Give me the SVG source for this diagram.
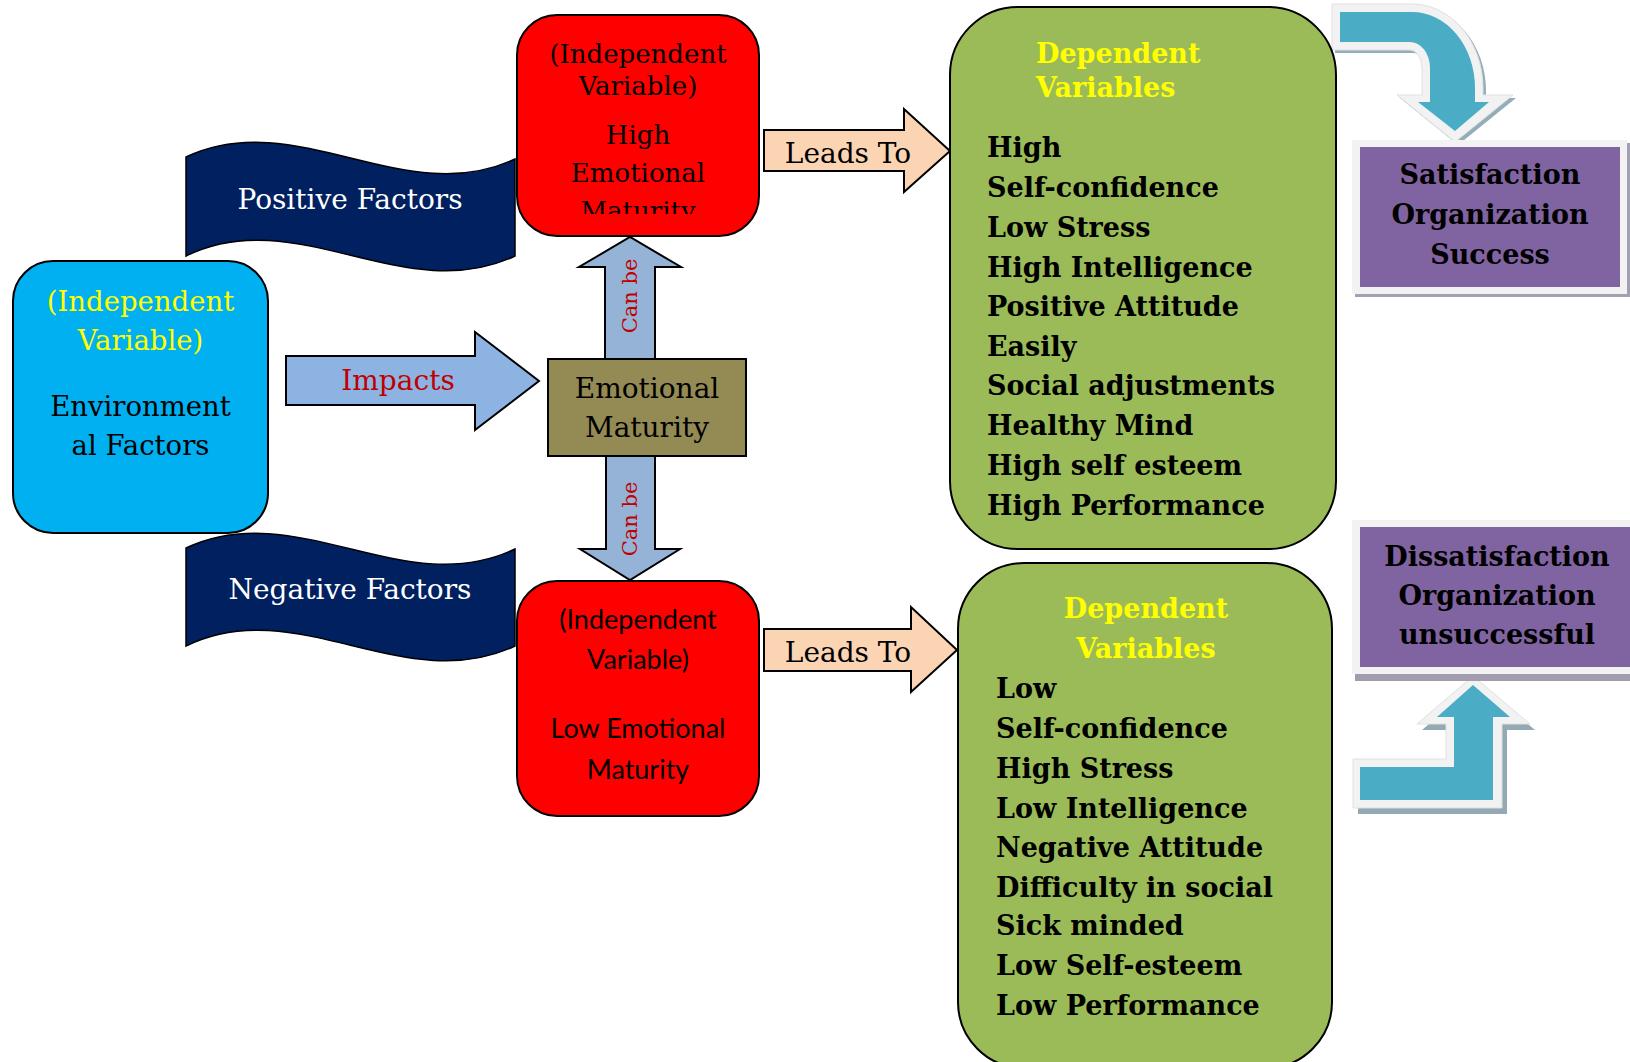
<svg xmlns="http://www.w3.org/2000/svg" width="1630" height="1062" viewBox="0 0 1630 1062">
<style>
.sf{font-family:"DejaVu Serif","Liberation Serif",serif}
.bd{font-family:"DejaVu Serif","Liberation Serif",serif;font-weight:bold}
.ln{stroke:#000;stroke-width:2}
.mid{text-anchor:middle}
</style>
<defs>
<clipPath id="clipHigh"><rect x="517" y="15" width="242" height="199"/></clipPath>
</defs>
<rect width="1630" height="1062" fill="#fff"/>

<g id="positive-factors">
<path d="M186,157 C296,105 405,211 515,159 L515,256 C405,308 296,202 186,256 Z" fill="#002060" stroke="#000" stroke-width="1.5"/>
<text class="sf mid" x="350" y="209" font-size="28" fill="#fff">Positive Factors</text>
</g>
<g id="negative-factors">
<path d="M186,548 C296,496 405,602 515,549 L515,646 C405,698 296,592 186,646 Z" fill="#002060" stroke="#000" stroke-width="1.5"/>
<text class="sf mid" x="350" y="599" font-size="28" fill="#fff">Negative Factors</text>
</g>

<g id="connectors">
<g id="impacts">
<polygon class="ln" points="286,356 475,356 475,332 539,381 475,430 475,405 286,405" fill="#8DB3E2"/>
<text class="sf mid" x="398" y="390" font-size="28" fill="#C00000">Impacts</text>
</g>
<g id="canbe-up">
<polygon class="ln" points="605,359 605,267 579,267 630,237 681,267 655,267 655,359" fill="#95B3D7"/>
<text class="sf mid" transform="translate(637,296) rotate(-90)" font-size="21" fill="#C00000">Can be</text>
</g>
<g id="canbe-down">
<polygon class="ln" points="606,456 606,549 580,549 630,580 680,549 655,549 655,456" fill="#95B3D7"/>
<text class="sf mid" transform="translate(637,519) rotate(-90)" font-size="21" fill="#C00000">Can be</text>
</g>
<g id="leads-to-high">
<polygon class="ln" points="764,130 904,130 904,109 950,151 904,192 904,171 764,171" fill="#FBD4B4"/>
<text class="sf mid" x="848" y="163" font-size="28">Leads To</text>
</g>
<g id="leads-to-low">
<polygon class="ln" points="764,629 911,629 911,607 957,650 911,692 911,671 764,671" fill="#FBD4B4"/>
<text class="sf mid" x="848" y="662" font-size="28">Leads To</text>
</g>
<g id="curved-arrow-satisfaction">
<path transform="translate(3,3)" d="M1332,4 L1412,4 A71,84 0 0 1 1483,88 L1483,95 L1513,95 L1455,142 L1397,95 L1422,95 L1422,68 A12,18 0 0 0 1410,50 L1332,50 Z" fill="#94ADBA"/>
<path d="M1332,4 L1412,4 A71,84 0 0 1 1483,88 L1483,95 L1513,95 L1455,142 L1397,95 L1422,95 L1422,68 A12,18 0 0 0 1410,50 L1332,50 Z" fill="#F2F2F2" stroke="#E0E0E0" stroke-width="1"/>
<path d="M1340,12 L1412,12 A63,76 0 0 1 1475,88 L1475,102 L1489,102 L1455,131 L1418,102 L1430,102 L1430,68 A20,26 0 0 0 1410,42 L1340,42 Z" fill="#4BACC6"/>
</g>
<g id="bent-arrow-dissatisfaction">
<path transform="translate(5,6)" d="M1353,759 L1446,759 L1446,724 L1417,724 L1473,676 L1530,724 L1502,724 L1502,808 L1353,808 Z" fill="#93A9B3"/>
<path d="M1353,759 L1446,759 L1446,724 L1417,724 L1473,676 L1530,724 L1502,724 L1502,808 L1353,808 Z" fill="#F2F2F2" stroke="#E0E0E0" stroke-width="1"/>
<path d="M1360,767 L1454,767 L1454,717 L1437,717 L1473,685 L1510,717 L1493,717 L1493,800 L1360,800 Z" fill="#4BACC6"/>
</g>
</g>

<g id="environmental-factors">
<rect class="ln" x="13" y="261" width="255" height="272" rx="40" fill="#00B0F0"/>
<g class="sf mid" font-size="27.5">
<text x="140.5" y="311" fill="#FFFF00">(Independent</text>
<text x="140.5" y="350" fill="#FFFF00">Variable)</text>
<text x="140.5" y="416">Environment</text>
<text x="140.5" y="455">al Factors</text>
</g>
</g>

<g id="high-emotional-maturity">
<rect class="ln" x="517" y="15" width="242" height="221" rx="40" fill="#FF0000"/>
<g class="sf mid" font-size="26" clip-path="url(#clipHigh)">
<text x="638" y="63">(Independent</text>
<text x="638" y="95">Variable)</text>
<text x="638" y="144">High</text>
<text x="638" y="182">Emotional</text>
<text x="638" y="220">Maturity</text>
</g>
</g>

<g id="emotional-maturity">
<rect class="ln" x="548" y="359" width="198" height="97" fill="#948A54"/>
<text class="sf mid" x="647" y="398" font-size="28">Emotional</text>
<text class="sf mid" x="647" y="437" font-size="28">Maturity</text>
</g>

<g id="low-emotional-maturity">
<rect class="ln" x="517" y="581" width="242" height="235" rx="40" fill="#FF0000"/>
<g font-family="Lato, 'Open Sans', sans-serif" font-size="27" text-anchor="middle">
<text x="638" y="629">(Independent</text>
<text x="638" y="669">Variable)</text>
<text x="638" y="738">Low Emotional</text>
<text x="638" y="779">Maturity</text>
</g>
</g>

<g id="dependent-high">
<rect class="ln" x="950" y="7" width="386" height="542" rx="68" fill="#9BBB59"/>
<g class="bd" font-size="27">
<text x="1036" y="62.5" fill="#FFFF00">Dependent</text>
<text x="1036" y="96.5" fill="#FFFF00">Variables</text>
<text x="987" y="157">High</text>
<text x="987" y="197">Self-confidence</text>
<text x="987" y="237">Low Stress</text>
<text x="987" y="277">High Intelligence</text>
<text x="987" y="316">Positive Attitude</text>
<text x="987" y="356">Easily</text>
<text x="987" y="395">Social adjustments</text>
<text x="987" y="435">Healthy Mind</text>
<text x="987" y="475">High self esteem</text>
<text x="987" y="515">High Performance</text>
</g>
</g>

<g id="dependent-low">
<rect class="ln" x="958" y="563" width="374" height="505" rx="66" fill="#9BBB59"/>
<g class="bd" font-size="27">
<text class="mid" x="1146" y="618" fill="#FFFF00">Dependent</text>
<text class="mid" x="1146" y="658" fill="#FFFF00">Variables</text>
<text x="996" y="698">Low</text>
<text x="996" y="738">Self-confidence</text>
<text x="996" y="778">High Stress</text>
<text x="996" y="817.5">Low Intelligence</text>
<text x="996" y="857">Negative Attitude</text>
<text x="996" y="897">Difficulty in social</text>
<text x="996" y="935">Sick minded</text>
<text x="996" y="975">Low Self-esteem</text>
<text x="996" y="1014.5">Low Performance</text>
</g>
</g>

<g id="satisfaction">
<rect x="1355" y="143" width="275" height="154" fill="#A3A0B4"/>
<rect x="1352" y="140" width="275" height="154" fill="#F2F2F2"/>
<rect x="1360" y="147" width="260" height="140" fill="#8064A2"/>
<g class="bd mid" font-size="27">
<text x="1490" y="184">Satisfaction</text>
<text x="1490" y="224">Organization</text>
<text x="1490" y="263.5">Success</text>
</g>
</g>

<g id="dissatisfaction">
<rect x="1355" y="524" width="280" height="157" fill="#A39BAE"/>
<rect x="1352" y="520" width="280" height="154" fill="#F2F2F2"/>
<rect x="1360" y="527" width="275" height="140" fill="#8064A2"/>
<g class="bd mid" font-size="27">
<text x="1497" y="566">Dissatisfaction</text>
<text x="1497" y="605">Organization</text>
<text x="1497" y="644">unsuccessful</text>
</g>
</g>
</svg>
